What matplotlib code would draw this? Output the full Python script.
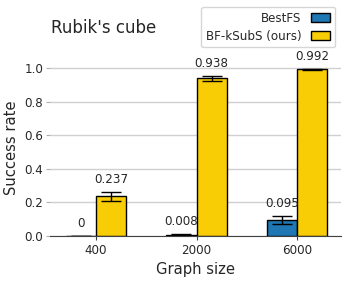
import matplotlib
matplotlib.use("Agg")
import matplotlib.pyplot as plt
import numpy as np
import seaborn as sns

sns.set_style("whitegrid")
plt.rcParams['font.family'] = ['DejaVu Sans']

categories = ["400", "2000", "6000"]
bestfs = [0.0, 0.008, 0.095]
bestfs_err = [0.0, 0.005, 0.024]
ksubs = [0.237, 0.938, 0.992]
ksubs_err = [0.026, 0.016, 0.003]
labels_best = ["0", "0.008", "0.095"]
labels_ksubs = ["0.237", "0.938", "0.992"]

fig = plt.figure(figsize=(3.48, 2.81), dpi=100)
ax = fig.add_axes([0.1437, 0.16, 0.8362, 0.628])
x = np.arange(len(categories))
w = 0.3
ax.bar(x - w/2, bestfs, w, yerr=bestfs_err, capsize=7, color="#1f77b4",
       edgecolor="black", linewidth=1, label="BestFS", error_kw=dict(elinewidth=1))
ax.bar(x + w/2, ksubs, w, yerr=ksubs_err, capsize=7, color="#f9cd05",
       edgecolor="black", linewidth=1, label="BF-kSubS (ours)", error_kw=dict(elinewidth=1))
for xi, v, e, t in zip(x - w/2, bestfs, bestfs_err, labels_best):
    ax.text(xi, v + e + 0.035, t, ha="center", va="bottom", fontsize=8.6, color="#262626")
for xi, v, e, t in zip(x + w/2, ksubs, ksubs_err, labels_ksubs):
    ax.text(xi, v + e + 0.035, t, ha="center", va="bottom", fontsize=8.6, color="#262626")

ax.set_xticks(x)
ax.set_xticklabels(categories, fontsize=8.6, color="#262626")
ax.set_xlim(-0.46, 2.44)
ax.set_ylim(0, 1.05)
ax.set_yticks([0, 0.2, 0.4, 0.6, 0.8, 1.0])
ax.set_yticklabels(["0.0", "0.2", "0.4", "0.6", "0.8", "1.0"], fontsize=8.6, color="#262626")
ax.tick_params(axis="y", length=3, color="#b0b0b0", left=True, pad=2)
ax.tick_params(axis="x", length=3, color="#404040", bottom=True, pad=3)
ax.xaxis.grid(False)
ax.yaxis.grid(True, color="#d0d0d0", linewidth=1)
for s in ["top", "right", "left"]:
    ax.spines[s].set_visible(False)
ax.spines["bottom"].set_color("#404040")
ax.set_xlabel("Graph size", fontsize=10.6, color="#262626", labelpad=3)
ax.set_ylabel("Success rate", fontsize=10.6, color="#262626", labelpad=4)
fig.text(51/348, 1 - 28/281, "Rubik's cube", fontsize=12, color="#262626", va="center")
fig.legend(loc="upper right", bbox_to_anchor=(335/348, 1 - 7/281), borderaxespad=0,
           fontsize=8.6, markerfirst=False, frameon=True, handlelength=1.6,
           labelspacing=0.4)
fig.savefig("out.png", dpi=100)
